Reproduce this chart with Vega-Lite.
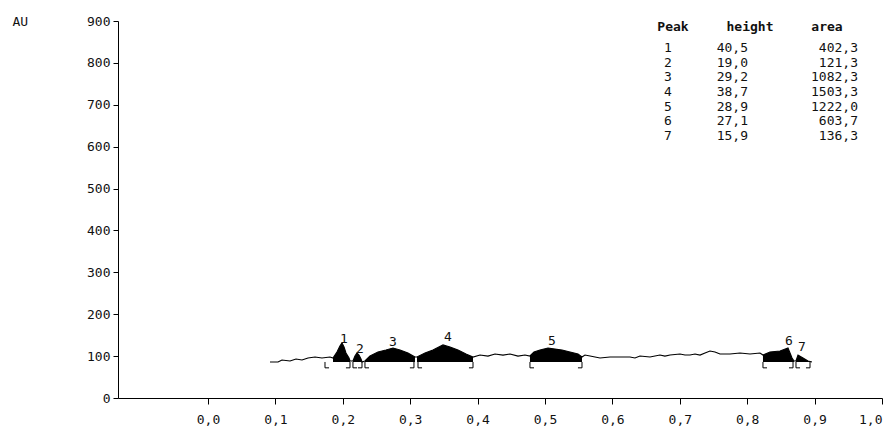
{
  "$schema": "https://vega.github.io/schema/vega-lite/v6.json",
  "width": 764,
  "height": 377,
  "autosize": {"type": "none"},
  "padding": {"left": 118, "top": 21, "right": 14, "bottom": 33},
  "background": "white",
  "config": {
    "view": {"stroke": null},
    "locale": {"number": {"decimal": ",", "thousands": ".", "grouping": [3], "currency": ["", ""]}},
    "axis": {"labelFont": "DejaVu Sans Mono", "labelFontSize": 13, "labelColor": "#111", "domainColor": "#000", "tickColor": "#000", "grid": false, "titleFont": "DejaVu Sans Mono"},
    "text": {"font": "DejaVu Sans Mono", "fontSize": 13, "color": "#111"}
  },
  "datasets": {
    "trace": [
      {"x": 0.0920, "au": 85.9, "peak": 0},
      {"x": 0.1039, "au": 85.9, "peak": 0},
      {"x": 0.1098, "au": 90.7, "peak": 0},
      {"x": 0.1217, "au": 88.3, "peak": 0},
      {"x": 0.1306, "au": 93.1, "peak": 0},
      {"x": 0.1395, "au": 90.7, "peak": 0},
      {"x": 0.1484, "au": 95.5, "peak": 0},
      {"x": 0.1588, "au": 97.9, "peak": 0},
      {"x": 0.1691, "au": 95.5, "peak": 0},
      {"x": 0.1810, "au": 97.9, "peak": 0},
      {"x": 0.1855, "au": 95.5, "peak": 1},
      {"x": 0.1914, "au": 109.8, "peak": 1},
      {"x": 0.1958, "au": 124.1, "peak": 1},
      {"x": 0.1988, "au": 131.3, "peak": 1},
      {"x": 0.2018, "au": 121.7, "peak": 1},
      {"x": 0.2047, "au": 107.4, "peak": 1},
      {"x": 0.2092, "au": 95.5, "peak": 1},
      {"x": 0.2107, "au": 88.3, "peak": 1},
      {"x": 0.2151, "au": 88.3, "peak": 2},
      {"x": 0.2181, "au": 100.2, "peak": 2},
      {"x": 0.2211, "au": 107.4, "peak": 2},
      {"x": 0.2240, "au": 102.6, "peak": 2},
      {"x": 0.2270, "au": 93.1, "peak": 2},
      {"x": 0.2285, "au": 85.9, "peak": 2},
      {"x": 0.2329, "au": 88.3, "peak": 3},
      {"x": 0.2404, "au": 100.2, "peak": 3},
      {"x": 0.2522, "au": 109.8, "peak": 3},
      {"x": 0.2641, "au": 114.6, "peak": 3},
      {"x": 0.2745, "au": 119.3, "peak": 3},
      {"x": 0.2849, "au": 114.6, "peak": 3},
      {"x": 0.2967, "au": 107.4, "peak": 3},
      {"x": 0.3071, "au": 97.9, "peak": 3},
      {"x": 0.3101, "au": 97.9, "peak": 4},
      {"x": 0.3220, "au": 107.4, "peak": 4},
      {"x": 0.3338, "au": 114.6, "peak": 4},
      {"x": 0.3487, "au": 126.5, "peak": 4},
      {"x": 0.3591, "au": 121.7, "peak": 4},
      {"x": 0.3709, "au": 114.6, "peak": 4},
      {"x": 0.3828, "au": 105.0, "peak": 4},
      {"x": 0.3932, "au": 97.9, "peak": 4},
      {"x": 0.4036, "au": 102.6, "peak": 0},
      {"x": 0.4154, "au": 100.2, "peak": 0},
      {"x": 0.4258, "au": 105.0, "peak": 0},
      {"x": 0.4377, "au": 102.6, "peak": 0},
      {"x": 0.4481, "au": 105.0, "peak": 0},
      {"x": 0.4599, "au": 100.2, "peak": 0},
      {"x": 0.4703, "au": 102.6, "peak": 0},
      {"x": 0.4777, "au": 100.2, "peak": 5},
      {"x": 0.4837, "au": 109.8, "peak": 5},
      {"x": 0.4926, "au": 114.6, "peak": 5},
      {"x": 0.5045, "au": 119.3, "peak": 5},
      {"x": 0.5148, "au": 116.9, "peak": 5},
      {"x": 0.5252, "au": 114.6, "peak": 5},
      {"x": 0.5371, "au": 109.8, "peak": 5},
      {"x": 0.5490, "au": 105.0, "peak": 5},
      {"x": 0.5549, "au": 97.9, "peak": 5},
      {"x": 0.5593, "au": 102.6, "peak": 0},
      {"x": 0.5668, "au": 100.2, "peak": 0},
      {"x": 0.5816, "au": 95.5, "peak": 0},
      {"x": 0.5964, "au": 97.9, "peak": 0},
      {"x": 0.6113, "au": 97.9, "peak": 0},
      {"x": 0.6261, "au": 97.9, "peak": 0},
      {"x": 0.6335, "au": 95.5, "peak": 0},
      {"x": 0.6409, "au": 100.2, "peak": 0},
      {"x": 0.6558, "au": 97.9, "peak": 0},
      {"x": 0.6706, "au": 102.6, "peak": 0},
      {"x": 0.6780, "au": 100.2, "peak": 0},
      {"x": 0.6855, "au": 102.6, "peak": 0},
      {"x": 0.7003, "au": 105.0, "peak": 0},
      {"x": 0.7077, "au": 102.6, "peak": 0},
      {"x": 0.7151, "au": 102.6, "peak": 0},
      {"x": 0.7226, "au": 105.0, "peak": 0},
      {"x": 0.7300, "au": 102.6, "peak": 0},
      {"x": 0.7374, "au": 107.4, "peak": 0},
      {"x": 0.7448, "au": 112.2, "peak": 0},
      {"x": 0.7522, "au": 109.8, "peak": 0},
      {"x": 0.7596, "au": 105.0, "peak": 0},
      {"x": 0.7745, "au": 105.0, "peak": 0},
      {"x": 0.7893, "au": 107.4, "peak": 0},
      {"x": 0.8042, "au": 105.0, "peak": 0},
      {"x": 0.8190, "au": 107.4, "peak": 0},
      {"x": 0.8234, "au": 102.6, "peak": 6},
      {"x": 0.8338, "au": 109.8, "peak": 6},
      {"x": 0.8487, "au": 112.2, "peak": 6},
      {"x": 0.8605, "au": 119.3, "peak": 6},
      {"x": 0.8665, "au": 95.5, "peak": 6},
      {"x": 0.8694, "au": 88.3, "peak": 6},
      {"x": 0.8724, "au": 88.3, "peak": 7},
      {"x": 0.8754, "au": 102.6, "peak": 7},
      {"x": 0.8828, "au": 95.5, "peak": 7},
      {"x": 0.8902, "au": 88.3, "peak": 7},
      {"x": 0.8961, "au": 85.9, "peak": 7}
    ],
    "brackets": [
      {"x": 0.1736, "side": "L"}, {"x": 0.2107, "side": "R"},
      {"x": 0.2151, "side": "L"}, {"x": 0.2285, "side": "R"},
      {"x": 0.2329, "side": "L"}, {"x": 0.3056, "side": "R"},
      {"x": 0.3116, "side": "L"}, {"x": 0.3932, "side": "R"},
      {"x": 0.4777, "side": "L"}, {"x": 0.5549, "side": "R"},
      {"x": 0.8234, "side": "L"}, {"x": 0.8680, "side": "R"},
      {"x": 0.8724, "side": "L"}, {"x": 0.8932, "side": "R"}
    ],
    "labels": [
      {"peak": "1", "x": 0.2018, "au": 124},
      {"peak": "2", "x": 0.2255, "au": 100},
      {"peak": "3", "x": 0.2745, "au": 117},
      {"peak": "4", "x": 0.3561, "au": 129},
      {"peak": "5", "x": 0.5104, "au": 119},
      {"peak": "6", "x": 0.8620, "au": 119},
      {"peak": "7", "x": 0.8813, "au": 105}
    ],
    "table": [
      {"row": 1, "peak": "1", "height": 40.5, "area": 402.3},
      {"row": 2, "peak": "2", "height": 19.0, "area": 121.3},
      {"row": 3, "peak": "3", "height": 29.2, "area": 1082.3},
      {"row": 4, "peak": "4", "height": 38.7, "area": 1503.3},
      {"row": 5, "peak": "5", "height": 28.9, "area": 1222.0},
      {"row": 6, "peak": "6", "height": 27.1, "area": 603.7},
      {"row": 7, "peak": "7", "height": 15.9, "area": 136.3}
    ],
    "header": [
      {"row": 0, "name": "Peak", "col": 0.6899},
      {"row": 0, "name": "height", "col": 0.8042},
      {"row": 0, "name": "area", "col": 0.9184}
    ]
  },
  "resolve": {"scale": {"y": "independent"}},
  "layer": [
    {
      "layer": [
        {
          "data": {"name": "trace"},
          "transform": [
            {"filter": "datum.peak > 0"},
            {"calculate": "86", "as": "base"}
          ],
          "mark": {"type": "area", "fill": "#000", "fillOpacity": 1, "interpolate": "linear", "orient": "vertical"},
          "encoding": {
            "x": {"field": "x", "type": "quantitative"},
            "y": {"field": "au", "type": "quantitative", "stack": null},
            "y2": {"field": "base"},
            "detail": {"field": "peak", "type": "nominal"}
          }
        },
        {
          "data": {"name": "trace"},
          "mark": {"type": "line", "color": "#000", "strokeWidth": 1.2},
          "encoding": {
            "x": {
              "field": "x", "type": "quantitative",
              "scale": {"domain": [-0.1335, 1.0], "nice": false, "zero": false},
              "axis": {"title": null, "values": [0, 0.1, 0.2, 0.3, 0.4, 0.5, 0.6, 0.7, 0.8, 0.9, 1.0], "format": ".1f", "tickSize": 6, "labelPadding": 9, "domainWidth": 1}
            },
            "y": {
              "field": "au", "type": "quantitative",
              "scale": {"domain": [0, 900], "nice": false},
              "axis": {
                "title": "AU", "titleAngle": 0, "titleAlign": "left", "titleBaseline": "middle",
                "titleX": -106, "titleY": 0, "titleFontSize": 13, "titleFontWeight": "normal", "titleColor": "#111",
                "values": [0, 100, 200, 300, 400, 500, 600, 700, 800, 900], "tickSize": 5, "labelPadding": 3
              }
            },
            "order": {"field": "x", "type": "quantitative"}
          }
        },
        {
          "data": {"name": "brackets"},
          "mark": {"type": "rule", "color": "#000", "strokeWidth": 1},
          "encoding": {
            "x": {"field": "x", "type": "quantitative"},
            "y": {"datum": 86},
            "y2": {"datum": 72}
          }
        },
        {
          "data": {"name": "brackets"},
          "transform": [{"calculate": "datum.side == 'L' ? datum.x + 0.006 : datum.x - 0.006", "as": "foot"}],
          "mark": {"type": "rule", "color": "#000", "strokeWidth": 1},
          "encoding": {
            "x": {"field": "x", "type": "quantitative"},
            "x2": {"field": "foot"},
            "y": {"datum": 72}
          }
        },
        {
          "data": {"name": "labels"},
          "mark": {"type": "text", "baseline": "alphabetic", "align": "center", "fontSize": 13, "dy": -3},
          "encoding": {
            "x": {"field": "x", "type": "quantitative"},
            "y": {"field": "au", "type": "quantitative"},
            "text": {"field": "peak"}
          }
        }
      ]
    },
    {
      "layer": [
        {
          "data": {"name": "header"},
          "mark": {"type": "text", "align": "center", "baseline": "middle", "fontWeight": "bold", "dy": -6},
          "encoding": {
            "x": {"field": "col", "type": "quantitative"},
            "y": {"field": "row", "type": "quantitative", "scale": {"domain": [-0.84, 24.86], "reverse": true, "nice": false, "zero": false}, "axis": null},
            "text": {"field": "name"}
          }
        },
        {
          "data": {"name": "table"},
          "mark": {"type": "text", "align": "center", "baseline": "middle"},
          "encoding": {
            "x": {"datum": 0.6825, "type": "quantitative"},
            "y": {"field": "row", "type": "quantitative"},
            "text": {"field": "peak"}
          }
        },
        {
          "data": {"name": "table"},
          "mark": {"type": "text", "align": "right", "baseline": "middle"},
          "encoding": {
            "x": {"datum": 0.8012, "type": "quantitative"},
            "y": {"field": "row", "type": "quantitative"},
            "text": {"field": "height", "format": ".1f"}
          }
        },
        {
          "data": {"name": "table"},
          "mark": {"type": "text", "align": "right", "baseline": "middle"},
          "encoding": {
            "x": {"datum": 0.9644, "type": "quantitative"},
            "y": {"field": "row", "type": "quantitative"},
            "text": {"field": "area", "format": ".1f"}
          }
        }
      ]
    }
  ]
}
